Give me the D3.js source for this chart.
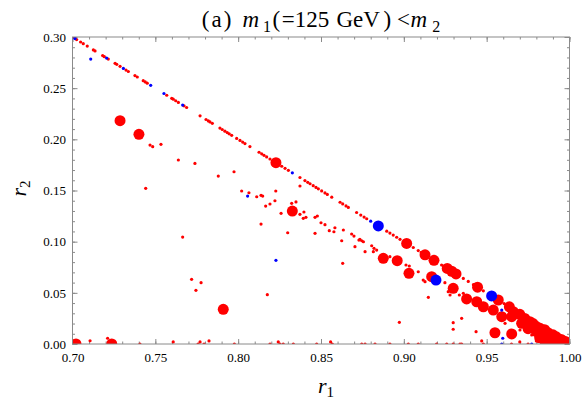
<!DOCTYPE html>
<html>
<head>
<meta charset="utf-8">
<script src="https://cdnjs.cloudflare.com/ajax/libs/d3/7.8.5/d3.min.js"></script>
<style>
  body { margin: 0; background: #fff; }
  svg text { font-family: "Liberation Serif", "DejaVu Serif", serif; }
</style>
</head>
<body>
<script>
var width = 582, height = 405;
var margin = { left: 72.5, right: 12.5, top: 37, bottom: 61 };

var xTicks = [0.70, 0.75, 0.80, 0.85, 0.90, 0.95, 1.00];
var yTicks = [0.00, 0.05, 0.10, 0.15, 0.20, 0.25, 0.30];
var xMinor = d3.range(70, 101).map(function(d) { return d / 100; });
var yMinor = d3.range(0, 31).map(function(d) { return d / 100; });

// small red points (on the r1+r2=1 edge, scattered, and along r2=0)
var redSmall = [
  [0.7001,0.2999],[0.7025,0.2975],[0.7049,0.2951],[0.7065,0.2935],[0.7089,0.2911],[0.7126,0.2874],
  [0.7136,0.2864],[0.7182,0.2818],[0.7192,0.2808],[0.7216,0.2784],[0.7257,0.2743],[0.7267,0.2733],
  [0.7287,0.2713],[0.7323,0.2677],[0.7337,0.2663],[0.7377,0.2623],[0.7391,0.2609],[0.7427,0.2573],
  [0.7439,0.2561],[0.7451,0.2549],[0.7569,0.2431],[0.7599,0.2401],[0.7608,0.2392],[0.7623,0.2377],
  [0.7639,0.2361],[0.7673,0.2327],[0.7689,0.2311],[0.7770,0.2230],[0.7806,0.2194],[0.7820,0.2180],
  [0.7830,0.2170],[0.7844,0.2156],[0.7890,0.2110],[0.7904,0.2096],[0.7920,0.2080],[0.7934,0.2066],
  [0.7946,0.2054],[0.7961,0.2039],[0.7991,0.2009],[0.8011,0.1989],[0.8027,0.1973],[0.8041,0.1959],
  [0.8071,0.1929],[0.8126,0.1874],[0.8142,0.1858],[0.8156,0.1844],[0.8172,0.1828],[0.8192,0.1808],
  [0.8263,0.1737],[0.8283,0.1717],[0.8303,0.1697],[0.8373,0.1627],[0.8403,0.1597],[0.8420,0.1580],
  [0.8434,0.1566],[0.8453,0.1547],[0.8470,0.1530],[0.8484,0.1516],[0.8504,0.1496],[0.8524,0.1476],
  [0.8538,0.1462],[0.8565,0.1435],[0.8615,0.1385],[0.8631,0.1369],[0.8651,0.1349],[0.8665,0.1335],
  [0.8715,0.1285],[0.8740,0.1260],[0.8760,0.1240],[0.8776,0.1224],[0.8897,0.1103],[0.8916,0.1084],
  [0.8936,0.1064],[0.8957,0.1043],[0.8977,0.1023],[0.9057,0.0943],[0.9087,0.0913],[0.9105,0.0895],
  [0.9228,0.0772],[0.9240,0.0760],[0.9359,0.0641],[0.9389,0.0611],[0.9420,0.0580],[0.9480,0.0520],
  [0.9605,0.0395],[0.9700,0.0300],
  [0.7468,0.1944],[0.7484,0.1928],[0.7534,0.1951],[0.7639,0.1798],[0.7739,0.1765],[0.7880,0.1641],
  [0.7975,0.1683],[0.8021,0.1495],[0.8065,0.1478],[0.7442,0.1521],[0.8112,0.1439],[0.8138,0.1453],
  [0.8148,0.1446],[0.8166,0.1348],[0.8192,0.1368],[0.8222,0.1400],[0.8227,0.1495],[0.8323,0.1375],
  [0.8349,0.1388],[0.8259,0.1277],[0.8138,0.1172],[0.8373,0.1267],[0.8397,0.1290],[0.8393,0.1228],
  [0.8409,0.1238],[0.8464,0.1238],[0.8478,0.1251],[0.8500,0.1185],[0.8524,0.1166],[0.8550,0.1107],
  [0.8584,0.1136],[0.8578,0.1097],[0.8625,0.1009],[0.8635,0.1114],[0.8464,0.1082],[0.8299,0.1087],
  [0.8685,0.1075],[0.8699,0.1055],[0.8705,0.0951],[0.8729,0.1016],[0.8631,0.0788],[0.7665,0.1045],
  [0.7719,0.0632],[0.7776,0.0599],[0.7745,0.0525],[0.8176,0.0482],[0.8373,0.1544],
  [0.8735,0.1022],[0.8746,0.1009],[0.8756,0.0999],[0.8766,0.0902],
  [0.8806,0.0960],[0.8820,0.0935],[0.8836,0.0918],[0.8816,0.0902],[0.8916,0.0853],[0.9013,0.0772],
  [0.9033,0.0762],[0.9087,0.0706],[0.9117,0.0625],[0.9128,0.0609],[0.9248,0.0599],[0.9268,0.0511],
  [0.9279,0.0479],[0.9335,0.0479],[0.9148,0.0456],[0.9359,0.0495],[0.9436,0.0120],[0.9349,0.0251],
  [0.9611,0.0202],[0.9701,0.0137],[0.9742,0.0120],[0.9772,0.0088],[0.8973,0.0212],[0.9298,0.0208],
  [0.9298,0.0144],
  [0.7106,0.0032],[0.7212,0.0056],[0.7407,0],[0.7608,0.002],[0.7758,0],[0.7770,0.002],[0.7794,0],
  [0.7824,0.003],[0.7977,0],[0.8192,0],[0.8242,0.002],[0.8252,0],[0.8272,0],[0.8333,0],[0.8474,0],
  [0.8558,0.002],[0.8568,0],[0.8746,0],[0.8766,0],[0.8826,0],[0.8916,0],[0.9027,0],[0.9087,0],
  [0.9198,0],[0.9259,0],[0.9298,0],[0.9339,0],[0.9349,0],[0.9470,0.003],[0.9480,0],[0.9650,0],
  [0.9700,0.002],[0.9750,0],[0.9800,0.003],[0.9830,0]
];

// large red points
var redBig = [
  [0.7287,0.2182],[0.7401,0.2049],[0.8228,0.1772],[0.8327,0.1299],[0.7910,0.0339],[0.7021,0],[0.7237,0],
  [0.9017,0.0983],[0.9128,0.0872],[0.9182,0.0818],[0.9262,0.0738],[0.9289,0.0711],[0.9315,0.0685],
  [0.9445,0.0555],[0.9570,0.0430],[0.9637,0.0363],[0.9661,0.0316],[0.9761,0.0218],[0.9822,0.0153],
  [0.8876,0.0837],[0.8960,0.0814],[0.9031,0.0691],[0.9168,0.0658],[0.9298,0.0544],[0.9379,0.0440],
  [0.9440,0.0413],[0.9480,0.0364],[0.9540,0.0332],[0.9591,0.0267],[0.9651,0.0267],[0.9711,0.0202],
  [0.9550,0.0110],[0.9651,0.0098],
  [0.9700,0.0290],[0.9730,0.0250],[0.9780,0.0200],[0.9800,0.0170],[0.9850,0.0140],[0.9870,0.0110],
  [0.9900,0.0090],[0.9920,0.0070],[0.9950,0.0045],[0.9975,0.0025],[0.9995,0.0008],[0.9800,0.0120],
  [0.9840,0.0080],[0.9880,0.0050],[0.9900,0.0020],[0.9940,0.0010],[0.9960,0.0030],[0.9860,0.0030],
  [0.9820,0.0060],[0.9750,0.0150]
];

var blueSmall = [
  [0.7015,0.2985],[0.7110,0.2784],[0.7206,0.2794],[0.7307,0.2693],[0.7472,0.2528],[0.7552,0.2448],
  [0.7665,0.2335],[0.8057,0.1446],[0.8228,0.0818],[0.8327,0.1673],[0.8800,0.1200],[0.9591,0.0332],
  [0.9597,0.0056],[0.9591,0],[0.9772,0]
];

var blueBig = [[0.8846,0.1154],[0.9194,0.0625],[0.9530,0.0470]];

var x = d3.scaleLinear().domain([0.70, 1.00]).range([margin.left, width - margin.right]);
var y = d3.scaleLinear().domain([0.00, 0.30]).range([height - margin.bottom, margin.top]);

var svg = d3.select("body").append("svg")
    .attr("width", width)
    .attr("height", height);

svg.append("clipPath").attr("id", "plotClip")
  .append("rect")
    .attr("x", x(0.70)).attr("y", y(0.30))
    .attr("width", x(1.00) - x(0.70)).attr("height", y(0) - y(0.30));

var frameColor = "#8a8a8a";

function styleAxis(g) {
  g.select(".domain").remove();
  g.selectAll(".tick line").attr("stroke", frameColor);
  g.selectAll(".tick text").attr("fill", "#000").style("font-size", "13px");
}

// minor ticks (inward, all four sides)
svg.append("g").attr("transform", "translate(0," + y(0) + ")")
  .call(d3.axisBottom(x).tickValues(xMinor).tickSize(-2.5).tickFormat(""))
  .call(styleAxis);
svg.append("g").attr("transform", "translate(0," + y(0.30) + ")")
  .call(d3.axisTop(x).tickValues(xMinor).tickSize(-2.5).tickFormat(""))
  .call(styleAxis);
svg.append("g").attr("transform", "translate(" + x(0.70) + ",0)")
  .call(d3.axisLeft(y).tickValues(yMinor).tickSize(-2.5).tickFormat(""))
  .call(styleAxis);
svg.append("g").attr("transform", "translate(" + x(1.00) + ",0)")
  .call(d3.axisRight(y).tickValues(yMinor).tickSize(-2.5).tickFormat(""))
  .call(styleAxis);

// major ticks
svg.append("g").attr("transform", "translate(0," + y(0) + ")")
  .call(d3.axisBottom(x).tickValues(xTicks).tickSize(-5).tickPadding(9).tickFormat(d3.format(".2f")))
  .call(styleAxis);
svg.append("g").attr("transform", "translate(0," + y(0.30) + ")")
  .call(d3.axisTop(x).tickValues(xTicks).tickSize(-5).tickFormat(""))
  .call(styleAxis);
svg.append("g").attr("transform", "translate(" + x(0.70) + ",0)")
  .call(d3.axisLeft(y).tickValues(yTicks).tickSize(-5).tickPadding(6.5).tickFormat(d3.format(".2f")))
  .call(styleAxis);
svg.append("g").attr("transform", "translate(" + x(1.00) + ",0)")
  .call(d3.axisRight(y).tickValues(yTicks).tickSize(-5).tickFormat(""))
  .call(styleAxis);

var plot = svg.append("g").attr("clip-path", "url(#plotClip)");

function drawDots(data, r, color) {
  plot.append("g").selectAll("circle")
    .data(data)
    .enter().append("circle")
      .attr("cx", function(d) { return x(d[0]); })
      .attr("cy", function(d) { return y(d[1]); })
      .attr("r", r)
      .attr("fill", color);
}

drawDots(redSmall, 1.6, "#ff0000");
drawDots(redBig, 5.5, "#ff0000");
drawDots(blueSmall, 1.6, "#0000ff");
drawDots(blueBig, 5.5, "#0000ff");

// frame
svg.append("rect")
    .attr("x", x(0.70)).attr("y", y(0.30))
    .attr("width", x(1.00) - x(0.70)).attr("height", y(0) - y(0.30))
    .attr("fill", "none")
    .attr("stroke", frameColor)
    .attr("stroke-width", 1);

// title, spaced out like the original typesetting
var title = svg.append("text")
    .attr("x", (x(0.70) + x(1.00)) / 2)
    .attr("y", 27)
    .attr("text-anchor", "middle")
    .style("font-size", "23px")
    .attr("fill", "#000");
title.append("tspan").text("(");
title.append("tspan").attr("dx", 2).text("a");
title.append("tspan").attr("dx", 2).text(")");
title.append("tspan").attr("dx", 11).style("font-style", "italic").text("m");
title.append("tspan").attr("dx", 4).attr("dy", 5).style("font-size", "16px").text("1");
title.append("tspan").attr("dx", 1.5).attr("dy", -5).text("(");
title.append("tspan").attr("dx", 1.5).text("=125");
title.append("tspan").attr("dx", 1.5).text(" GeV");
title.append("tspan").attr("dx", 3.5).text(")");
title.append("tspan").attr("dx", 6).text("<");
title.append("tspan").attr("dx", 0.5).style("font-style", "italic").text("m");
title.append("tspan").attr("dx", 5).attr("dy", 5).style("font-size", "16px").text("2");

// axis labels
var xl = svg.append("text")
    .attr("x", 326)
    .attr("y", 393)
    .attr("text-anchor", "middle")
    .style("font-size", "22px");
xl.append("tspan").style("font-style", "italic").text("r");
xl.append("tspan").attr("dy", 4).style("font-size", "15px").text("1");

var yl = svg.append("text")
    .attr("transform", "translate(26," + (y(0.15) - 2) + ") rotate(-90)")
    .attr("text-anchor", "middle")
    .style("font-size", "22px");
yl.append("tspan").style("font-style", "italic").text("r");
yl.append("tspan").attr("dy", 4).style("font-size", "15px").text("2");
</script>
</body>
</html>
